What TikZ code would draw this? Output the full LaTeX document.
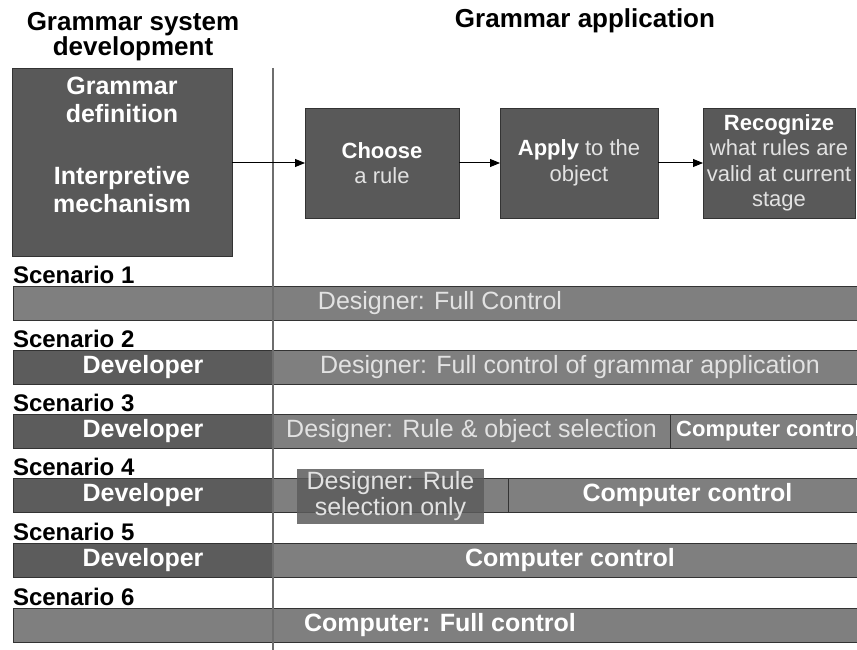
\documentclass[tikz,border=0pt]{standalone}
\usepackage{fontspec}
\setmainfont{Liberation Sans}
\usetikzlibrary{positioning}
\usetikzlibrary{arrows.meta}

\definecolor{boxgray}{HTML}{595959}
\definecolor{devgray}{HTML}{5C5C5C}
\definecolor{ctrlgray}{HTML}{7F7F7F}
\definecolor{paletext}{HTML}{E2E2E2}
\definecolor{edgegray}{HTML}{333333}
\definecolor{rulegray}{HTML}{6E6E6E}

\newcommand{\headfont}{\fontsize{26}{24}\selectfont\bfseries}
\newcommand{\boxfont}{\fontsize{25}{28}\selectfont\bfseries}
\newcommand{\stepfont}{\fontsize{22}{25.5}\selectfont}
\newcommand{\barfont}{\fontsize{25}{26}\selectfont}
\newcommand{\smallbarfont}{\fontsize{22}{24}\selectfont\bfseries}
\newcommand{\labelfont}{\fontsize{24}{24}\selectfont\bfseries}

\tikzset{
  stepbox/.style={draw=edgegray, fill=boxgray, minimum height=110, text=paletext, font=\stepfont},
  barpart/.style={draw=edgegray, minimum height=34, font=\barfont},
  devpart/.style={barpart, fill=devgray, text=white, font=\barfont\bfseries},
  designpart/.style={barpart, fill=ctrlgray, text=paletext},
  ctrlpart/.style={barpart, fill=ctrlgray, text=white, font=\barfont\bfseries},
  scenlabel/.style={anchor=base west, font=\labelfont},
  flow/.style={-{Triangle[length=10pt,width=8pt]}, line width=1pt}
}

\begin{document}
\begin{tikzpicture}[x=1pt, y=-1pt, line width=0.8pt, align=center, inner sep=0pt, outer sep=0pt]
    \useasboundingbox (0,0) rectangle (857,650);
    \clip (0,0) rectangle (857,650);

    % Headings
    \node (syshead) [font=\headfont] at (133,37) {Grammar system\\development};
    \node (apphead) [anchor=base, font=\headfont] at (585,28) {Grammar application};

    % Grammar system box
    \node (gdef) [draw=edgegray, fill=boxgray, minimum width=220, minimum height=188] at (122,162) {};
    \node (gtext) [text=white, font=\boxfont] at (122,145) {Grammar\\definition\\[34pt]Interpretive\\mechanism};

    % Application steps
    \node (choose) [stepbox, minimum width=154] at (382,163) {\textcolor{white}{\textbf{Choose}}\\a rule};
    \node (apply) [stepbox, minimum width=158, right=41 of choose] {\textcolor{white}{\textbf{Apply}} to the\\object};
    \node (recognize) [stepbox, minimum width=152, right=45 of apply] {\textcolor{white}{\textbf{Recognize}}\\what rules are\\valid at current\\stage};

    % Scenario labels
    \node (sc1) [scenlabel] at (13,283) {Scenario 1};
    \node (sc2) [scenlabel] at (13,347) {Scenario 2};
    \node (sc3) [scenlabel] at (13,411) {Scenario 3};
    \node (sc4) [scenlabel] at (13,475) {Scenario 4};
    \node (sc5) [scenlabel] at (13,540) {Scenario 5};
    \node (sc6) [scenlabel] at (13,605) {Scenario 6};

    % Scenario bars
    \node (full1) [designpart, anchor=west, minimum width=854] at (13,303) {Designer: Full Control};

    \node (dev2) [devpart, anchor=west, minimum width=260] at (13,367) {Developer};
    \node (des2) [designpart, minimum width=594, right=0 of dev2] {Designer: Full control of grammar application};

    \node (dev3) [devpart, anchor=west, minimum width=260] at (13,431) {Developer};
    \node (des3) [designpart, minimum width=397, right=0 of dev3] {Designer: Rule \& object selection};
    \node (comp3) [ctrlpart, font=\smallbarfont, minimum width=197, right=0 of des3] {Computer control};

    \node (dev4) [devpart, anchor=west, minimum width=260] at (13,495) {Developer};
    \node (des4) [designpart, minimum width=235, right=0 of dev4] {};
    \node (comp4) [ctrlpart, minimum width=359, right=0 of des4] {Computer control};

    \node (dev5) [devpart, anchor=west, minimum width=260] at (13,560) {Developer};
    \node (comp5) [ctrlpart, minimum width=594, right=0 of dev5] {Computer control};

    \node (full6) [ctrlpart, anchor=west, minimum width=854] at (13,625) {Computer: Full control};

    % Rule selection box
    \node (sel4) [fill=devgray, fill opacity=0.85, text opacity=1, text=paletext, font=\barfont, minimum width=187, minimum height=55] at (390.5,496) {Designer: Rule\\selection only};

    % Lines
    \coordinate (divtop) at (273,68);
    \coordinate (divbot) at (273,652);
    \draw [rulegray, line width=1.4pt] (divtop) -- (divbot);

    \draw [flow] (gdef.east |- choose.west) -- (choose.west);
    \draw [flow] (choose) -- (apply);
    \draw [flow] (apply) -- (recognize);
\end{tikzpicture}
\end{document}
